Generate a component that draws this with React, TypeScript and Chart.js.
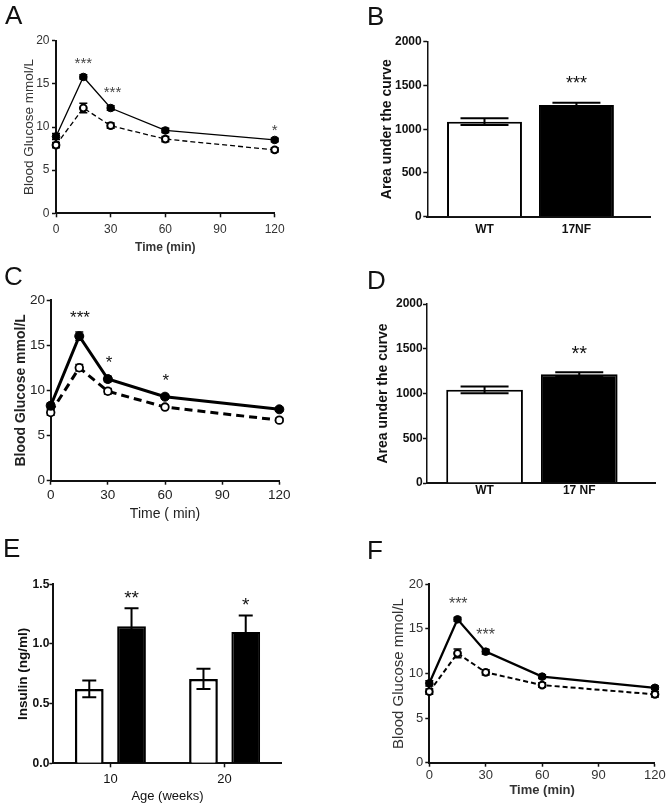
import React, { useEffect, useRef } from 'react';
import { Chart, registerables } from 'chart.js';
Chart.register(...registerables);

const SANS = '"Liberation Sans", Arial, sans-serif';

// ---------------- DATA ----------------
const timeMin = [0, 15, 30, 60, 120];

// Panel A
const aNF = [8.9, 15.8, 12.2, 9.6, 8.5];
const aNFErr = [0.35, 0.25, 0.25, 0.25, 0.2];
const aWT = [7.9, 12.2, 10.15, 8.6, 7.35];
const aWTErr = [0.3, 0.55, 0.3, 0.3, 0.25];
const aStarText = ['***', '***', '*'];
const aStarTime = [15, 31, 120];
const aStarLevel = [17.8, 14.5, 10.1];

// Panel B
const aucGroups = ['WT', '17NF'];
const aucGroupsD = ['WT', '17 NF'];
const bAUC = [1086, 1276];
const bAUCErr = [38, 27];
const bStarText = ['***'];
const bStarGroup = [2];
const bStarLevel = [1574];

// Panel C
const cNF = [8.3, 16.0, 11.25, 9.3, 7.9];
const cNFErr = [0.3, 0.45, 0.3, 0.25, 0.2];
const cWT = [7.55, 12.5, 9.9, 8.15, 6.7];
const cWTErr = [0.3, 0.35, 0.3, 0.2, 0.2];
const cStarText = ['***', '*', '*'];
const cStarTime = [15.4, 30.6, 60.4];
const cStarLevel = [18.5, 13.5, 11.6];

// Panel D
const dAUC = [1041, 1216];
const dAUCErr = [37, 22];
const dStarText = ['**'];
const dStarGroup = [2];
const dStarLevel = [1505];

// Panel E
const ageWeeks = ['10', '20'];
const eWT = [0.623, 0.707];
const eWTErr = [0.07, 0.085];
const eNF = [1.148, 1.1];
const eNFErr = [0.152, 0.138];
const eStarText = ['**', '*'];
const eStarBar = [0, 1];
const eStarLevel = [1.425, 1.363];

// Panel F
const fNF = [8.9, 16.07, 12.45, 9.65, 8.4];
const fNFErr = [0.3, 0.2, 0.25, 0.2, 0.2];
const fWT = [7.96, 12.26, 10.13, 8.7, 7.66];
const fWTErr = [0.3, 0.5, 0.3, 0.25, 0.3];
const fStarText = ['***', '***'];
const fStarTime = [15.4, 30];
const fStarLevel = [18.2, 14.8];

// ---------------- LAYOUT ----------------
type Geo = { W: number; H: number; L: number; T: number; R: number; B: number; yTickRight: number; yTitleX: number; xTickY: number; xTitleY: number };
const gA: Geo = { W: 340, H: 260, L: 56, T: 40.7, R: 274.7, B: 213.3, yTickRight: 49.5, yTitleX: 29, xTickY: 230, xTitleY: 247.5 };
const gB: Geo = { W: 327, H: 260, L: 87.3, T: 41.7, R: 310, B: 216.7, yTickRight: 81.7, yTitleX: 46.7, xTickY: 230, xTitleY: 0 };
const gC: Geo = { W: 340, H: 270, L: 50.7, T: 40, R: 279.3, B: 220.7, yTickRight: 45, yTitleX: 20.7, xTickY: 235, xTitleY: 254 };
const gD: Geo = { W: 327, H: 270, L: 87, T: 44, R: 315, B: 223, yTickRight: 82.7, yTitleX: 43.3, xTickY: 231, xTitleY: 0 };
const gE: Geo = { W: 340, H: 278, L: 53.3, T: 54.3, R: 281.7, B: 233.3, yTickRight: 49.3, yTitleX: 23.3, xTickY: 249.4, xTitleY: 266.7 };
const gF: Geo = { W: 327, H: 278, L: 89.3, T: 54.3, R: 315, B: 232.7, yTickRight: 83.3, yTitleX: 59.3, xTickY: 245.7, xTitleY: 260 };

const TL = 4;
const AXIS = '#111';

type Fnt = { family: string; size: number; weight?: string };

// ---------------- PLUGINS ----------------
function errorBars(after: boolean, capHalf: number, width: number) {
  const draw = (chart: any) => {
    const ctx = chart.ctx;
    const ys = chart.scales.y;
    ctx.save();
    ctx.strokeStyle = '#000';
    ctx.lineWidth = width;
    chart.data.datasets.forEach((ds: any, di: number) => {
      if (!ds.errors) return;
      const meta = chart.getDatasetMeta(di);
      meta.data.forEach((el: any, i: number) => {
        const d = ds.data[i];
        const v = typeof d === 'number' ? d : d.y;
        const e = ds.errors[i];
        const top = ys.getPixelForValue(v + e);
        const bot = ys.getPixelForValue(v - e);
        ctx.beginPath();
        ctx.moveTo(el.x, top);
        ctx.lineTo(el.x, bot);
        ctx.moveTo(el.x - capHalf, top);
        ctx.lineTo(el.x + capHalf, top);
        ctx.moveTo(el.x - capHalf, bot);
        ctx.lineTo(el.x + capHalf, bot);
        ctx.stroke();
      });
    });
    ctx.restore();
  };
  return after
    ? { id: 'errA', afterDatasetsDraw: draw }
    : { id: 'errB', beforeDatasetsDraw: draw };
}

type Star = { text: string; x?: number; ds?: number; bar?: number; y: number };
function starsPlugin(items: Star[], font: Fnt, color: string) {
  return {
    id: 'stars',
    afterDraw(chart: any) {
      const ctx = chart.ctx;
      ctx.save();
      ctx.font = `${font.weight || 'normal'} ${font.size}px ${font.family}`;
      ctx.fillStyle = color;
      ctx.textAlign = 'center';
      ctx.textBaseline = 'alphabetic';
      items.forEach((it) => {
        const px = it.bar != null
          ? chart.getDatasetMeta(it.ds).data[it.bar].x
          : chart.scales.x.getPixelForValue(it.x);
        const py = chart.scales.y.getPixelForValue(it.y) + font.size * 0.57;
        ctx.fillText(it.text, px, py);
      });
      ctx.restore();
    },
  };
}

// ---------------- SCALES ----------------
function yScale(g: Geo, min: number, max: number, step: number, tickFont: Fnt, color: string, title: string, titleFont: Fnt, fmt?: (v: number) => string, axisW = 2) {
  const lh = titleFont.size * 1.2;
  return {
    type: 'linear',
    min, max,
    afterFit: (s: any) => { s.width = g.L; },
    ticks: { stepSize: step, font: tickFont, color, padding: g.L - TL - g.yTickRight, callback: fmt || ((v: any) => String(v)) },
    grid: { drawOnChartArea: false, drawTicks: true, tickLength: TL, tickColor: AXIS, tickWidth: 1.5, color: AXIS },
    border: { display: true, color: AXIS, width: axisW },
    title: { display: true, text: title, font: { ...titleFont, lineHeight: 1.2 }, color, padding: { top: g.yTitleX - lh / 2, bottom: 0 } },
  };
}

function xTime(g: Geo, tickFont: Fnt, color: string, title: string, titleFont: Fnt, axisW = 2) {
  const tlh = tickFont.size * 1.2;
  const lh = titleFont.size * 1.2;
  return {
    type: 'linear',
    min: 0, max: 120,
    afterFit: (s: any) => { s.height = g.H - g.B; },
    ticks: { stepSize: 30, font: tickFont, color, padding: g.xTickY - g.B - TL - tlh / 2, maxRotation: 0, autoSkip: false },
    grid: { drawOnChartArea: false, drawTicks: true, tickLength: TL, tickColor: AXIS, tickWidth: 1.5, color: AXIS },
    border: { display: true, color: AXIS, width: axisW },
    title: { display: true, text: title, font: { ...titleFont, lineHeight: 1.2 }, color, padding: { top: 0, bottom: g.H - g.xTitleY - lh / 2 } },
  };
}

function baseOptions(g: Geo) {
  return {
    animation: false,
    responsive: false,
    events: [],
    layout: { padding: { top: g.T, right: g.W - g.R, left: 0, bottom: 0 } },
    plugins: { legend: { display: false }, tooltip: { enabled: false } },
  };
}

// ---------------- LINE PANELS ----------------
type LineP = {
  g: Geo; nf: number[]; nfErr: number[]; wt: number[]; wtErr: number[];
  nfWidth: number; wtWidth: number; dash: number[]; nfR: number; wtR: number; wtBorder: number;
  tickFont: Fnt; color: string; yTitle: string; yTitleFont: Fnt; xTitle: string; xTitleFont: Fnt;
  stars: Star[]; starFont: Fnt; starColor: string; cap: number; errW: number; axisW: number;
};
function lineConfig(p: LineP): any {
  return {
    type: 'line',
    data: {
      datasets: [
        {
          label: '17NF',
          data: timeMin.map((t, i) => ({ x: t, y: p.nf[i] })),
          errors: p.nfErr,
          borderColor: '#000', borderWidth: p.nfWidth, tension: 0, fill: false, clip: false,
          pointRadius: p.nfR, pointBackgroundColor: '#000', pointBorderColor: '#000', pointBorderWidth: 1,
        },
        {
          label: 'WT',
          data: timeMin.map((t, i) => ({ x: t, y: p.wt[i] })),
          errors: p.wtErr,
          borderColor: '#000', borderWidth: p.wtWidth, borderDash: p.dash, tension: 0, fill: false, clip: false,
          pointRadius: p.wtR, pointBackgroundColor: '#fff', pointBorderColor: '#000', pointBorderWidth: p.wtBorder,
        },
      ],
    },
    options: {
      ...baseOptions(p.g),
      scales: {
        x: xTime(p.g, p.tickFont, p.color, p.xTitle, p.xTitleFont, p.axisW),
        y: yScale(p.g, 0, 20, 5, p.tickFont, p.color, p.yTitle, p.yTitleFont, undefined, p.axisW),
      },
    },
    plugins: [errorBars(false, p.cap, p.errW), starsPlugin(p.stars, p.starFont, p.starColor)],
  };
}

function timeStars(text: string[], t: number[], lvl: number[]): Star[] {
  return text.map((s, i) => ({ text: s, x: t[i], y: lvl[i] }));
}

const makeA = () => lineConfig({
  g: gA, nf: aNF, nfErr: aNFErr, wt: aWT, wtErr: aWTErr,
  nfWidth: 1.3, wtWidth: 1.3, dash: [5, 3], nfR: 3.8, wtR: 3.4, wtBorder: 2,
  tickFont: { family: SANS, size: 12 }, color: '#333',
  yTitle: 'Blood Glucose mmol/L', yTitleFont: { family: SANS, size: 13.5 },
  xTitle: 'Time (min)', xTitleFont: { family: SANS, size: 12, weight: 'bold' },
  stars: timeStars(aStarText, aStarTime, aStarLevel), starFont: { family: SANS, size: 15 }, starColor: '#444',
  cap: 4, errW: 1.5, axisW: 2,
});

const makeC = () => lineConfig({
  g: gC, nf: cNF, nfErr: cNFErr, wt: cWT, wtErr: cWTErr,
  nfWidth: 3, wtWidth: 3, dash: [8, 5], nfR: 4.5, wtR: 3.8, wtBorder: 1.8,
  tickFont: { family: SANS, size: 13.5 }, color: '#222',
  yTitle: 'Blood Glucose mmol/L', yTitleFont: { family: SANS, size: 14, weight: 'bold' },
  xTitle: 'Time ( min)', xTitleFont: { family: SANS, size: 14 },
  stars: timeStars(cStarText, cStarTime, cStarLevel), starFont: { family: SANS, size: 17 }, starColor: '#111',
  cap: 4, errW: 1.5, axisW: 2,
});

const makeF = () => lineConfig({
  g: gF, nf: fNF, nfErr: fNFErr, wt: fWT, wtErr: fWTErr,
  nfWidth: 2.3, wtWidth: 2, dash: [5, 3], nfR: 3.8, wtR: 3.4, wtBorder: 2,
  tickFont: { family: SANS, size: 13 }, color: '#333',
  yTitle: 'Blood Glucose mmol/L', yTitleFont: { family: SANS, size: 15 },
  xTitle: 'Time (min)', xTitleFont: { family: SANS, size: 13, weight: 'bold' },
  stars: timeStars(fStarText, fStarTime, fStarLevel), starFont: { family: SANS, size: 16 }, starColor: '#444',
  cap: 4, errW: 1.5, axisW: 2,
});

// ---------------- AUC BAR PANELS ----------------
type AucP = { g: Geo; labels: string[]; values: number[]; errs: number[]; xMin: number; xMax: number; barPct: number; starText: string[]; starGroup: number[]; starLevel: number[]; starSize: number };
function aucConfig(p: AucP): any {
  const g = p.g;
  const tickFont: Fnt = { family: SANS, size: 12, weight: 'bold' };
  const tlh = 12 * 1.2;
  return {
    type: 'bar',
    data: {
      datasets: [{
        data: p.labels.map((_, i) => ({ x: i + 1, y: p.values[i] })),
        errors: p.errs,
        backgroundColor: ['#fff', '#000'],
        borderColor: '#000',
        borderWidth: 2,
        borderSkipped: 'bottom',
        barPercentage: p.barPct,
        categoryPercentage: 1,
      }],
    },
    options: {
      ...baseOptions(g),
      scales: {
        x: {
          type: 'linear', min: p.xMin, max: p.xMax, offset: false,
          afterBuildTicks: (s: any) => { s.ticks = p.labels.map((_, i) => ({ value: i + 1 })); },
          afterFit: (s: any) => { s.height = g.H - g.B; },
          ticks: { callback: (v: any) => p.labels[Math.round(v) - 1] ?? '', font: { family: SANS, size: 12, weight: 'bold' }, color: '#111', padding: g.xTickY - g.B - tlh / 2, autoSkip: false, maxRotation: 0 },
          grid: { display: false, drawTicks: false },
          border: { display: true, color: AXIS, width: 2 },
        },
        y: yScale(g, 0, 2000, 500, tickFont, '#111', 'Area under the curve', { family: SANS, size: 14, weight: 'bold' }, undefined, 1.5),
      },
    },
    plugins: [
      errorBars(true, 24, 2),
      starsPlugin(p.starText.map((s, i) => ({ text: s, x: p.starGroup[i], y: p.starLevel[i] })), { family: SANS, size: p.starSize }, '#111'),
    ],
  };
}

const makeB = () => aucConfig({ g: gB, labels: aucGroups, values: bAUC, errs: bAUCErr, xMin: 0.378, xMax: 2.8, barPct: 0.815, starText: bStarText, starGroup: bStarGroup, starLevel: bStarLevel, starSize: 18 });
const makeD = () => aucConfig({ g: gD, labels: aucGroupsD, values: dAUC, errs: dAUCErr, xMin: 0.392, xMax: 2.8, barPct: 0.81, starText: dStarText, starGroup: dStarGroup, starLevel: dStarLevel, starSize: 20 });

// ---------------- INSULIN PANEL ----------------
const makeE = (): any => {
  const g = gE;
  const tickFont: Fnt = { family: SANS, size: 12, weight: 'bold' };
  const xFont: Fnt = { family: SANS, size: 13 };
  const xTitleFont: Fnt = { family: SANS, size: 13 };
  return {
    type: 'bar',
    data: {
      labels: ageWeeks,
      datasets: [
        { label: 'WT', data: eWT, errors: eWTErr, backgroundColor: '#fff', borderColor: '#000', borderWidth: 2.5, borderSkipped: 'bottom', barPercentage: 0.68, categoryPercentage: 0.74 },
        { label: '17NF', data: eNF, errors: eNFErr, backgroundColor: '#000', borderColor: '#000', borderWidth: 2, borderSkipped: 'bottom', barPercentage: 0.68, categoryPercentage: 0.74 },
      ],
    },
    options: {
      ...baseOptions(g),
      scales: {
        x: {
          type: 'category', offset: true,
          afterFit: (s: any) => { s.height = g.H - g.B; },
          ticks: { font: xFont, color: '#111', padding: g.xTickY - g.B - TL - xFont.size * 0.6, maxRotation: 0, autoSkip: false },
          grid: { drawOnChartArea: false, drawTicks: true, offset: false, tickLength: TL, tickColor: AXIS, tickWidth: 1.5, color: AXIS },
          border: { display: true, color: AXIS, width: 2 },
          title: { display: true, text: 'Age (weeks)', font: { ...xTitleFont, lineHeight: 1.2 }, color: '#111', padding: { top: 0, bottom: g.H - g.xTitleY - xTitleFont.size * 0.6 } },
        },
        y: yScale(g, 0, 1.5, 0.5, tickFont, '#111', 'Insulin (ng/ml)', { family: SANS, size: 13.5, weight: 'bold' }, (v: number) => Number(v).toFixed(1), 2),
      },
    },
    plugins: [
      errorBars(true, 7, 2),
      starsPlugin(eStarText.map((s, i) => ({ text: s, ds: 1, bar: eStarBar[i], y: eStarLevel[i] })), { family: SANS, size: 19 }, '#111'),
    ],
  };
};

// ---------------- COMPONENTS ----------------
function Panel(props: { x: number; y: number; w: number; h: number; letter: string; lx: number; ly: number; make: () => any }) {
  const ref = useRef<HTMLCanvasElement>(null);
  useEffect(() => {
    const chart = new Chart(ref.current as HTMLCanvasElement, props.make());
    return () => chart.destroy();
  }, []);
  return (
    <div style={{ position: 'absolute', left: props.x, top: props.y, width: props.w, height: props.h }}>
      <canvas ref={ref} width={props.w} height={props.h} style={{ width: props.w, height: props.h, display: 'block' }} />
      <div style={{ position: 'absolute', left: props.lx, top: props.ly, fontFamily: SANS, fontSize: 26, lineHeight: 1, color: '#111' }}>{props.letter}</div>
    </div>
  );
}

export default function App() {
  return (
    <div style={{ position: 'absolute', left: 0, top: 0, width: 667, height: 808, background: '#fff', overflow: 'hidden' }}>
      <Panel x={0} y={0} w={340} h={260} letter="A" lx={5} ly={1.6} make={makeA} />
      <Panel x={340} y={0} w={327} h={260} letter="B" lx={27} ly={2.6} make={makeB} />
      <Panel x={0} y={260} w={340} h={270} letter="C" lx={4} ly={3.3} make={makeC} />
      <Panel x={340} y={260} w={327} h={270} letter="D" lx={27} ly={6.6} make={makeD} />
      <Panel x={0} y={530} w={340} h={278} letter="E" lx={3} ly={5} make={makeE} />
      <Panel x={340} y={530} w={327} h={278} letter="F" lx={27} ly={6.6} make={makeF} />
    </div>
  );
}
